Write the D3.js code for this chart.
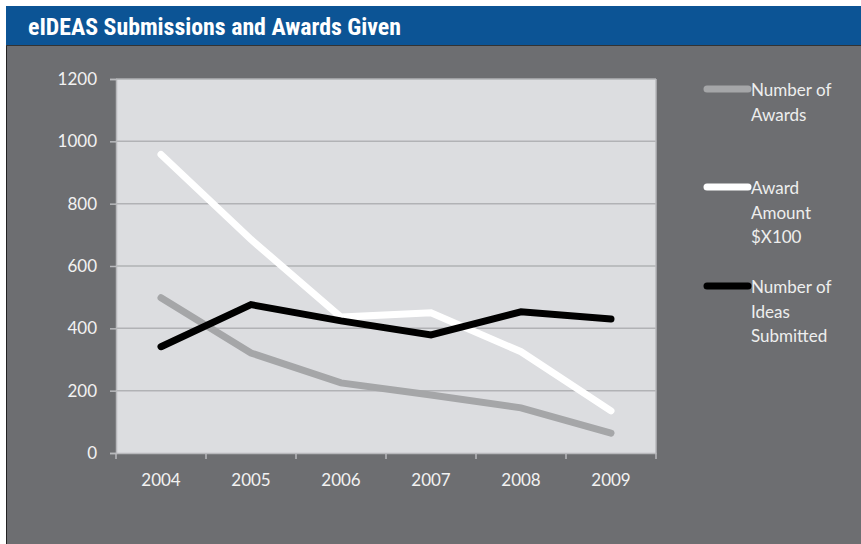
<!DOCTYPE html>
<html><head><meta charset="utf-8">
<script src="https://cdn.jsdelivr.net/npm/d3@7"></script>
<style>html,body{margin:0;padding:0;background:#fff;}svg{display:block;}</style>
</head><body>
<script>
const years = ["2004","2005","2006","2007","2008","2009"];
const awards = [498, 321, 225, 186, 145, 64];
const awardAmount = [958, 685, 436, 450, 325, 135];
const ideas = [341, 476, 424, 379, 453, 430];
const yTicks = [0, 200, 400, 600, 800, 1000, 1200];
const seriesNames = [["Number of","Awards"],["Award","Amount","$X100"],["Number of","Ideas","Submitted"]];
const title = "eIDEAS Submissions and Awards Given";

(function(){
const W = 861, H = 544;
const svg = d3.select("body").append("svg").attr("width", W).attr("height", H);
svg.append("rect").attr("x",6).attr("y",6).attr("width",W-6).attr("height",39).attr("fill","#0c5495");
svg.append("rect").attr("x",6).attr("y",45).attr("width",W-6).attr("height",H-45).attr("fill","#6d6e71");
svg.append("line").attr("x1",6.5).attr("x2",6.5).attr("y1",45).attr("y2",H).attr("stroke","#222").attr("stroke-width",1);
svg.append("line").attr("x1",6).attr("x2",W).attr("y1",45.5).attr("y2",45.5).attr("stroke","#333").attr("stroke-width",1);
svg.append("text").attr("x",28).attr("y",35).text(title)
  .attr("font-family","'Liberation Sans Narrow','Roboto Condensed','Liberation Sans',sans-serif")
  .attr("font-weight","bold").attr("font-size",24).attr("fill","#fff")
  .attr("textLength",373).attr("lengthAdjust","spacingAndGlyphs");

const pL = 116, pR = 656, pT = 79, pB = 453;
const x = d3.scaleBand().domain(years).range([pL, pR]);
const y = d3.scaleLinear().domain([0, 1200]).range([pB, pT]);

svg.append("rect").attr("x",pL).attr("y",pT).attr("width",pR-pL).attr("height",pB-pT).attr("fill","#dcdde0");

const g = svg.append("g");
g.selectAll("line.grid").data(yTicks.filter(d=>d>0)).join("line")
  .attr("x1",pL).attr("x2",pR).attr("y1",d=>y(d)).attr("y2",d=>y(d))
  .attr("stroke","#b1b2b5").attr("stroke-width",1.5);

const font = "Lato, 'Open Sans', sans-serif";
const yAxis = d3.axisLeft(y).tickValues(yTicks).tickSize(6).tickPadding(13).tickFormat(d3.format("d"));
const ya = svg.append("g").attr("transform",`translate(${pL},0)`).call(yAxis);
ya.select(".domain").attr("stroke","#b8b9bc").attr("stroke-width",1.5);
ya.selectAll(".tick line").attr("stroke","#b8b9bc").attr("stroke-width",1.5);
ya.selectAll("text").attr("fill","#f2f2f2").attr("font-size",17).attr("font-family",font);

const xAxis = d3.axisBottom(x).tickSize(0).tickPadding(21);
const xa = svg.append("g").attr("transform",`translate(0,${pB})`).call(xAxis);
xa.select(".domain").attr("stroke","#b8b9bc").attr("stroke-width",1.5);
xa.selectAll("text").attr("fill","#f2f2f2").attr("font-size",17).attr("font-family",font);
const xb = [pL].concat(years.map(d=>x(d)+x.bandwidth()));
xa.selectAll("line.bt").data(xb).join("line").attr("class","bt")
  .attr("x1",d=>d).attr("x2",d=>d).attr("y1",0).attr("y2",6)
  .attr("stroke","#b8b9bc").attr("stroke-width",1.5);
svg.append("line").attr("x1",pR).attr("x2",pR).attr("y1",pT).attr("y2",pB).attr("stroke","#b8b9bc").attr("stroke-width",1.5);

const series = [
  {vals: awards, color:"#a5a6a8"},
  {vals: awardAmount, color:"#ffffff"},
  {vals: ideas, color:"#000000"}
];
const line = d3.line().x((d,i)=>x(years[i])+x.bandwidth()/2).y(d=>y(d));
series.forEach(s=>{
  svg.append("path").attr("d", line(s.vals)).attr("fill","none")
    .attr("stroke", s.color).attr("stroke-width",7)
    .attr("stroke-linecap","round").attr("stroke-linejoin","miter");
});

const legY = [89, 187, 286];
series.forEach((s,i)=>{
  svg.append("line").attr("x1",707).attr("x2",748).attr("y1",legY[i]).attr("y2",legY[i])
    .attr("stroke",s.color).attr("stroke-width",7).attr("stroke-linecap","round");
  const t = svg.append("text").attr("x",751).attr("y",legY[i]+7)
    .attr("fill","#eeeeee").attr("font-size",17).attr("font-family",font);
  seriesNames[i].forEach((ln,j)=>{
    t.append("tspan").attr("x",751).attr("dy", j===0?0:24.5).text(ln);
  });
});
})();
</script>
</body></html>
